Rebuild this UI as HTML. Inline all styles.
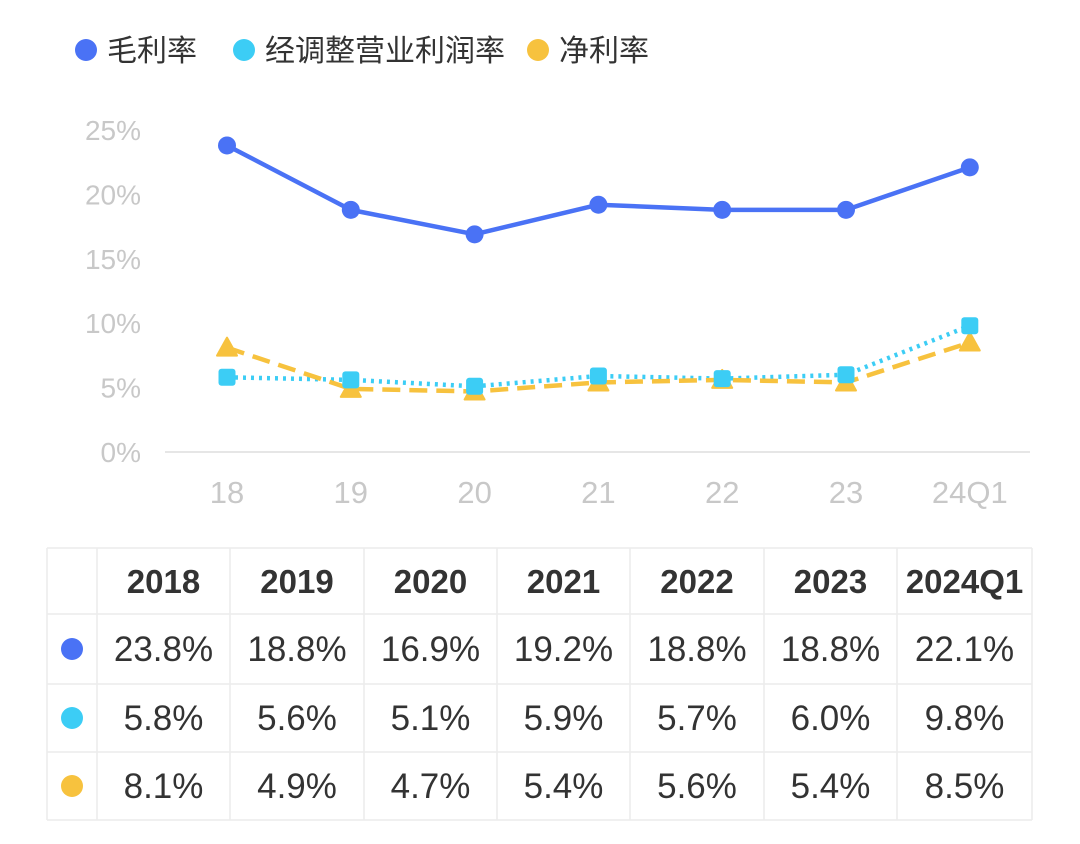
<!DOCTYPE html>
<html><head><meta charset="utf-8">
<style>
body{margin:0;background:#fff;width:1080px;height:844px;overflow:hidden;font-family:"Liberation Sans","Noto Sans CJK SC",sans-serif;}
svg{position:absolute;left:0;top:0}
</style></head>
<body>
<svg id="chart" width="1080" height="844"></svg>
<script>
const categories=["18","19","20","21","22","23","24Q1"];
const years=["2018","2019","2020","2021","2022","2023","2024Q1"];
const gross=[23.8,18.8,16.9,19.2,18.8,18.8,22.1];
const opm=[5.8,5.6,5.1,5.9,5.7,6.0,9.8];
const net=[8.1,4.9,4.7,5.4,5.6,5.4,8.5];
const yTicks=[0,5,10,15,20,25];
const seriesNames=["毛利率","经调整营业利润率","净利率"];
const colors=["#4a72f5","#3ccdf5","#f7c23e"];

const NS="http://www.w3.org/2000/svg";
const svg=document.getElementById('chart');
function mk(t,a,txt){const e=document.createElementNS(NS,t);for(const k in a)e.setAttribute(k,a[k]);if(txt!==undefined)e.textContent=txt;svg.appendChild(e);return e;}
const x=i=>227+i*123.8;
const y=v=>452-v*12.88;

const legX=[86,244,538];
seriesNames.forEach((n,i)=>{
  let c=mk('circle',{cx:legX[i],cy:50,r:11,fill:colors[i]});
  
  
  let t=mk('text',{x:legX[i]+21,y:61,'font-size':30,fill:'#333'},n);
  
  
});
yTicks.forEach(v=>{
  let t=mk('text',{x:141,y:y(v)+10,'font-size':28,fill:'#c8c8c8','text-anchor':'end'},v+'%');
  
  
});
let base=mk('line',{x1:165,x2:1030,y1:452,y2:452,stroke:'#e6e6e6','stroke-width':2});


categories.forEach((c,i)=>{
  let t=mk('text',{x:x(i),y:503,'font-size':31,fill:'#c8c8c8','text-anchor':'middle'},c);
  
  
});
function line(data,col,dash,name){
  const p=mk('polyline',{points:data.map((v,i)=>x(i)+','+y(v)).join(' '),fill:'none',stroke:col,'stroke-width':4.5,'stroke-dasharray':dash,'stroke-linejoin':'round'});
  
  
}
line(gross,colors[0],'none','gross-margin-line');
line(opm,colors[1],'3 5','adjusted-op-margin-line');
line(net,colors[2],'18 9','net-margin-line');
gross.forEach((v,i)=>{
  let c=mk('circle',{cx:x(i),cy:y(v),r:9,fill:colors[0]});
  
  
});
net.forEach((v,i)=>{
  let cx=x(i),cy=y(v);
  let p=mk('polygon',{points:`${cx},${cy-10} ${cx-10},${cy+8} ${cx+10},${cy+8}`,fill:colors[2],'stroke':colors[2],'stroke-width':2,'stroke-linejoin':'round'});
  
  
});
opm.forEach((v,i)=>{
  let r=mk('rect',{x:x(i)-8.5,y:y(v)-8.5,width:17,height:17,rx:3,fill:colors[1]});
  
  
});
const colB=[47,97,230,364,497,630,764,897,1032];
const rowB=[548,614,684,752,820];
rowB.forEach(yy=>{let l=mk('line',{x1:47,x2:1032,y1:yy,y2:yy,stroke:'#ececec','stroke-width':1.5});
  });
colB.forEach(xx=>{let l=mk('line',{x1:xx,x2:xx,y1:548,y2:820,stroke:'#ececec','stroke-width':1.5});
  });
const cx=i=>(colB[i+1]+colB[i+2])/2;
const rc=r=>(rowB[r]+rowB[r+1])/2;
years.forEach((yv,i)=>{
  let t=mk('text',{x:cx(i),y:rc(0)+12,'font-size':33,'font-weight':'bold',fill:'#333','text-anchor':'middle'},yv);
  
  
});
[gross,opm,net].forEach((arr,r)=>{
  let c=mk('circle',{cx:72,cy:rc(r+1),r:11,fill:colors[r]});
  
  
  arr.forEach((v,i)=>{
    let t=mk('text',{x:cx(i),y:rc(r+1)+12,'font-size':35,fill:'#333','text-anchor':'middle'},v.toFixed(1)+'%');
    
    
  });
});
</script>
</body></html>
